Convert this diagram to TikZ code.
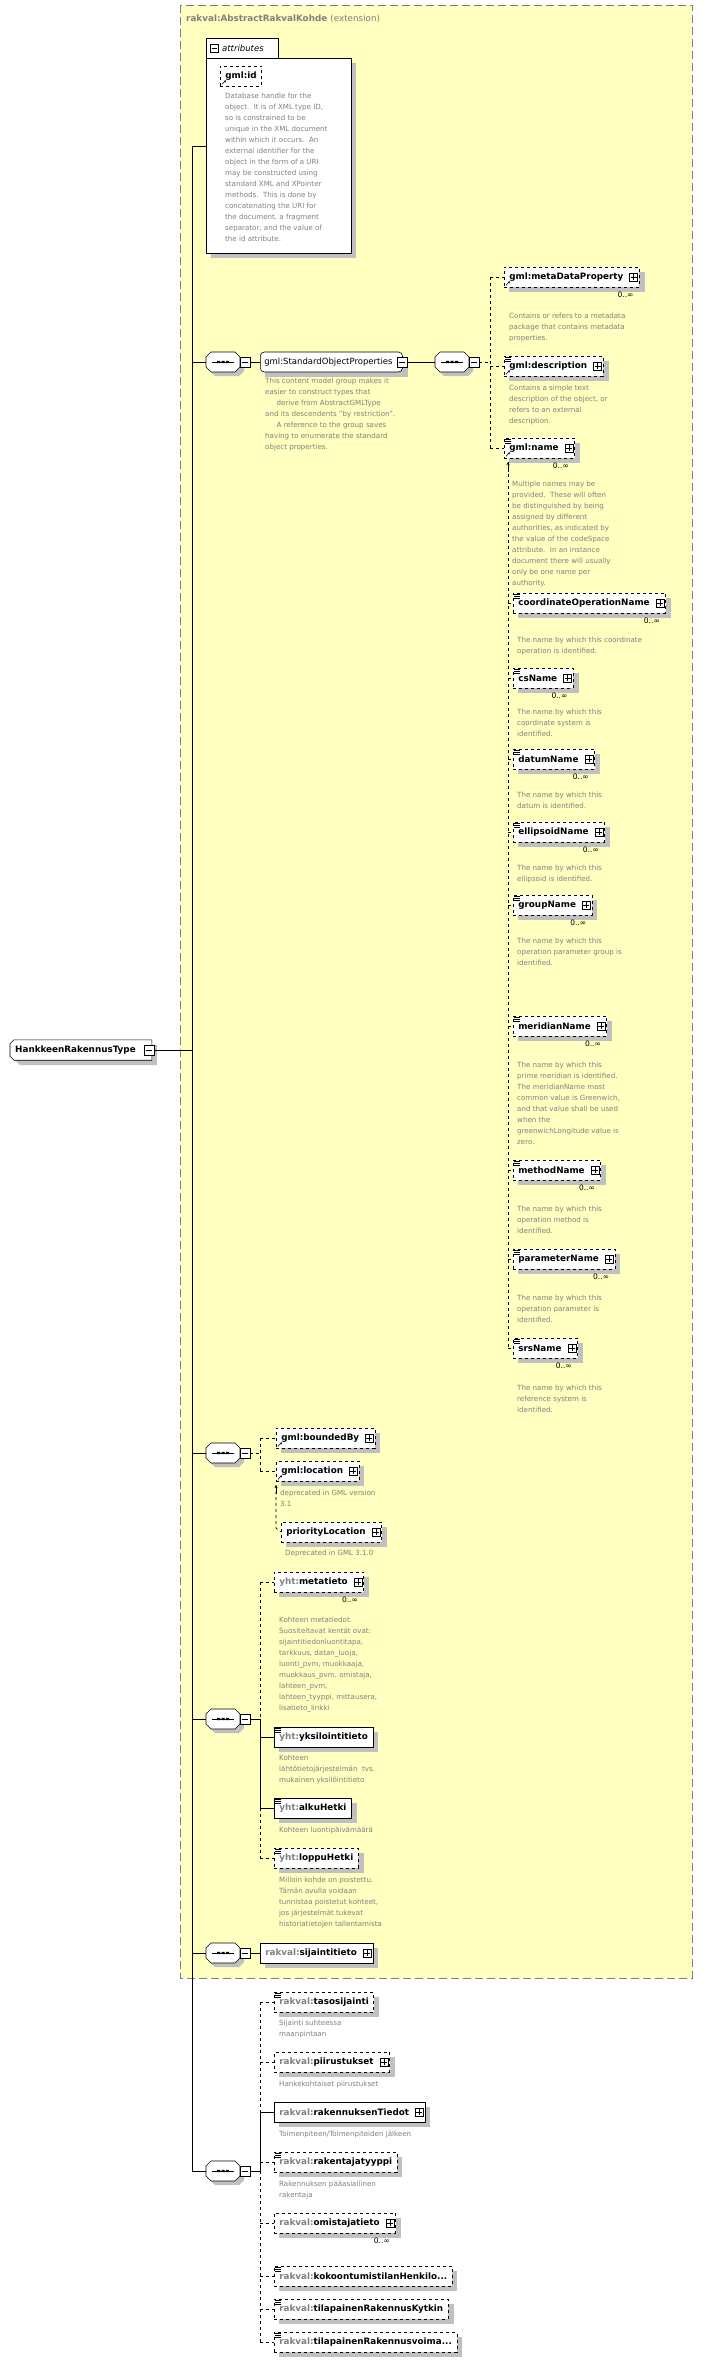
\documentclass[tikz,border=0pt]{standalone}
\usepackage{fontspec}
\setmainfont{DejaVu Sans}
\usetikzlibrary{calc,backgrounds,arrows.meta}
\definecolor{yellowbg}{RGB}{255,255,192}
\definecolor{shadowgray}{RGB}{192,192,192}
\definecolor{descgray}{RGB}{128,128,128}
\definecolor{pregray}{RGB}{128,128,128}
\newcommand\elfont{\bfseries\fontsize{8.8}{10}\selectfont}
\newcommand\dfont{\fontsize{7.1}{11}\selectfont}
\newcommand\pre[1]{\textcolor{pregray}{#1}}
\newcommand\pp{\hspace*{11pt}}
\tikzset{
  x=1pt,y=-1pt,
  elbox/.style={draw, fill=white, anchor=west, minimum height=20, inner xsep=5, inner ysep=0, font=\elfont, line width=0.6},
  optbox/.style={elbox, dashed},
  desc/.style={anchor=north west, align=left, font=\dfont, text=descgray, inner sep=0},
  mult/.style={anchor=north east, font=\fontsize{7.5}{8}\selectfont, inner sep=0},
}
\newcommand\shadowof[1]{\begin{scope}[on background layer]\fill[shadowgray] ($(#1.north west)+(5,5)$) rectangle ($(#1.south east)+(5,5)$);\end{scope}}
\newcommand\el[5]{\node[#4] (#1) at (#2,#3) {#5};\shadowof{#1}}
\newcommand\plusat[1]{\draw[fill=white,solid,line width=0.5] ($(#1.east)+(-10,-4)$) rectangle ++(8,8); \draw[solid,line width=0.5] ($(#1.east)+(-6,-3)$) -- ++(0,6) ($(#1.east)+(-9,0)$) -- ++(6,0);}
\newcommand\refic[1]{\draw[solid,line width=0.6,-{Stealth[length=2.2pt,width=2.2pt]}] ($(#1.south west)+(2,-2)$) -- ++(4,-4);}
\newcommand\simic[1]{\draw[solid,line width=0.5] ($(#1.north west)+(1,1.5)$) -- ++(6,0) ($(#1.north west)+(1,3.5)$) -- ++(6,0) ($(#1.north west)+(1,5.5)$) -- ++(6,0);}
\newcommand\seqq[3]{\begin{scope}[shift={(#2,#3)}]
  \fill[shadowgray] (9,-6) -- (33,-6) -- (38,-1) -- (38,9) -- (33,14) -- (9,14) -- (4,9) -- (4,-1) -- cycle;
  \draw[fill=white,line width=0.6] (5,-10) -- (29,-10) -- (34,-5) -- (34,5) -- (29,10) -- (5,10) -- (0,5) -- (0,-5) -- cycle;
  \draw[line width=0.6] (6,0) -- (28,0);
  \fill (11,-1.2) rectangle (14,1.2) (15.5,-1.2) rectangle (18.5,1.2) (20,-1.2) rectangle (23,1.2);
  \draw[fill=white,line width=0.5] (34,-5) rectangle (44,5); \draw[line width=0.5] (36,0) -- (42,0);
  \coordinate (#1-in) at (0,0); \coordinate (#1-out) at (44,0);
\end{scope}}
\begin{document}
\begin{tikzpicture}
\useasboundingbox (0,0) rectangle (708,2362);
\begin{scope}[on background layer]
\fill[white] (0,0) rectangle (708,2362);
\draw[draw=gray,fill=yellowbg,dash pattern=on 8pt off 4pt,line width=0.7] (180,5) rectangle (692,1978);
\end{scope}
\node[anchor=west,inner sep=0,font=\bfseries\fontsize{8.8}{10}\selectfont,text=descgray] (title) at (186,19) {rakval:AbstractRakvalKohde \mdseries(extension)};

% spine
\coordinate (spinetop) at (192,146);
\coordinate (spinebot) at (192,2171);
\draw[line width=0.7] (spinetop) -- (spinebot);

% root
\node[anchor=west,inner xsep=5,inner ysep=0,minimum height=20,font=\elfont] (root) at (10,1050) {HankkeenRakennusType\pp};
\begin{scope}[on background layer]
\fill[shadowgray] ($(root.north west)+(8,5)$) -- ($(root.north east)+(5,5)$) -- ($(root.south east)+(5,5)$) -- ($(root.south west)+(10,5)$) -- ($(root.south west)+(5,0)$) -- ($(root.west)+(5,0)$) -- cycle;
\end{scope}
\draw[fill=white,line width=0.6] ($(root.north west)+(4,0)$) -- (root.north east) -- (root.south east) -- ($(root.south west)+(4,0)$) -- ($(root.south west)+(0,-4)$) -- ($(root.north west)+(0,4)$) -- cycle;
\node[anchor=west,inner xsep=5,inner ysep=0,minimum height=20,font=\elfont] at (root.west) {HankkeenRakennusType\pp};
\draw[fill=white,line width=0.5] ($(root.east)+(-8,-5)$) rectangle ++(10,10);
\draw[line width=0.5] ($(root.east)+(-6,0)$) -- ++(6,0);
\coordinate (rootout) at ($(root.east)+(2,0)$);
\draw[line width=0.7] (rootout) -- (rootout -| spinetop);

% attributes
\fill[shadowgray] (211,63) rectangle (356,258);
\draw[fill=white,line width=0.6] (206,58) rectangle (351,253);
\draw[fill=white,line width=0.6] (206,38) rectangle (278,58);
\draw[line width=0.5] (210,44) rectangle (218,52) (211.5,48) -- (216.5,48);
\node[anchor=west,inner sep=0,font=\itshape\fontsize{8.5}{10}\selectfont] (attrlbl) at (222,48) {attributes};
\coordinate (attrL) at (206,146);
\draw[line width=0.7] (spinetop) -- (attrL);
\el{gid}{220}{76}{optbox}{gml:id}\refic{gid}
\node[desc] (giddesc) at (225,93) {Database handle for the\\object.\ \ It is of XML type ID,\\so is constrained to be\\unique in the XML document\\within which it occurs.\ \ An\\external identifier for the\\object in the form of a URI\\may be constructed using\\standard XML and XPointer\\methods.\ \ This is done by\\concatenating the URI for\\the document, a fragment\\separator, and the value of\\the id attribute.};

% seq1 + SOP
\seqq{s1}{206}{362}
\draw[line width=0.7] (s1-in -| spinetop) -- (s1-in);
\node[draw,fill=white,rounded corners=4,anchor=west,minimum height=20,inner xsep=4,inner ysep=0,font=\fontsize{8.5}{10}\selectfont,line width=0.6] (sop) at (260,362) {gml:StandardObjectProperties\hspace*{6pt}};
\shadowof{sop}
\draw[fill=white,line width=0.5] ($(sop.east)+(-6,-5)$) rectangle ++(10,10);
\draw[line width=0.5] ($(sop.east)+(-4,0)$) -- ++(6,0);
\draw[line width=0.7] (s1-out) -- (sop.west);
\node[desc] (sopdesc) at (265,378) {This content model group makes it\\easier to construct types that\\\hspace*{1.6em}derive from AbstractGMLType\\and its descendents "by restriction".\\\hspace*{1.6em}A reference to the group saves\\having to enumerate the standard\\object properties.};
\seqq{s2}{435}{362}
\draw[line width=0.7] ($(sop.east)+(4,0)$) -- (s2-in);
\coordinate (b2) at (490,362);
\draw[dashed,line width=0.6] (s2-out) -- (b2);

\el{mdp}{504}{277}{optbox}{gml:metaDataProperty\pp}\plusat{mdp}\refic{mdp}
\node[mult] at ($(mdp.south east)+(-6,4)$) {0..∞};
\node[desc] at (509,313) {Contains or refers to a metadata\\package that contains metadata\\properties.};
\el{gdesc}{504}{366}{optbox}{gml:description\pp}\plusat{gdesc}\refic{gdesc}\simic{gdesc}
\node[desc] at (509,385) {Contains a simple text\\description of the object, or\\refers to an external\\description.};
\el{gname}{504}{448}{optbox}{gml:name\pp}\plusat{gname}\refic{gname}\simic{gname}
\node[mult] at ($(gname.south east)+(-6,4)$) {0..∞};
\node[desc] at (512,481) {Multiple names may be\\provided.\ \ These will often\\be distinguished by being\\assigned by different\\authorities, as indicated by\\the value of the codeSpace\\attribute.\ \ In an instance\\document there will usually\\only be one name per\\authority.};
\draw[dashed,line width=0.6] (b2 |- mdp.west) -- (b2 |- gname.west);
\foreach \n in {mdp,gdesc,gname} \draw[dashed,line width=0.6] (b2 |- \n.west) -- (\n.west);

% substitution group
\coordinate (subtop) at (508,462);
\coordinate (subbot) at (508,1348);
\draw[dashed,line width=0.6] (subtop) -- (subbot);
\draw[line width=0.6,-{Stealth[length=3pt,width=3pt]}] (508,472) -- (subtop);
\newcommand\subel[5]{\el{#1}{513}{#2}{optbox}{#3\pp}\plusat{#1}\simic{#1}
  \node[mult] at ($(#1.south east)+(-6,4)$) {0..∞};
  \node[desc] at (517,#4) {#5};
  \draw[dashed,line width=0.6] (subtop |- #1.west) -- (#1.west);}
\subel{con}{603}{coordinateOperationName}{637}{The name by which this coordinate\\operation is identified.}
\subel{csn}{678}{csName}{709}{The name by which this\\coordinate system is\\identified.}
\subel{dat}{759}{datumName}{792}{The name by which this\\datum is identified.}
\subel{ell}{832}{ellipsoidName}{865}{The name by which this\\ellipsoid is identified.}
\subel{grp}{905}{groupName}{938}{The name by which this\\operation parameter group is\\identified.}
\subel{mer}{1026}{meridianName}{1062}{The name by which this\\prime meridian is identified.\\The meridianName most\\common value is Greenwich,\\and that value shall be used\\when the\\greenwichLongitude value is\\zero.}
\subel{met}{1170}{methodName}{1206}{The name by which this\\operation method is\\identified.}
\subel{par}{1259}{parameterName}{1295}{The name by which this\\operation parameter is\\identified.}
\subel{srs}{1348}{srsName}{1385}{The name by which this\\reference system is\\identified.}

% seq3
\seqq{s3}{206}{1453}
\draw[line width=0.7] (s3-in -| spinetop) -- (s3-in);
\coordinate (b3) at (260,1453);
\draw[dashed,line width=0.6] (s3-out) -- (b3);
\el{bby}{276}{1438}{optbox}{gml:boundedBy\pp}\plusat{bby}\refic{bby}
\el{loc}{276}{1471}{optbox}{gml:location\pp}\plusat{loc}\refic{loc}
\draw[dashed,line width=0.6] (b3 |- bby.west) -- (b3 |- loc.west);
\foreach \n in {bby,loc} \draw[dashed,line width=0.6] (b3 |- \n.west) -- (\n.west);
\node[desc] at (280,1490) {deprecated in GML version\\3.1};
\el{prl}{281}{1532}{optbox}{priorityLocation\pp}\plusat{prl}
\node[desc] at (285,1550) {Deprecated in GML 3.1.0};
\coordinate (loctop) at (276,1485);
\draw[dashed,line width=0.6] (loctop) -- (276,1528) -- (prl.west);
\draw[line width=0.6,-{Stealth[length=3pt,width=3pt]}] (276,1494) -- (loctop);

% seq4
\seqq{s4}{206}{1719}
\draw[line width=0.7] (s4-in -| spinetop) -- (s4-in);
\coordinate (b4) at (260,1719);
\draw[line width=0.6] (s4-out) -- (b4);
\el{mtt}{274}{1582}{optbox}{\pre{yht:}metatieto\pp}\plusat{mtt}
\node[mult] at ($(mtt.south east)+(-6,4)$) {0..∞};
\node[desc] at (279,1617) {Kohteen metatiedot.\\Suositeltavat kentät ovat:\\sijaintitiedonluontitapa,\\tarkkuus, datan\_luoja,\\luonti\_pvm, muokkaaja,\\muokkaus\_pvm, omistaja,\\lahteen\_pvm,\\lahteen\_tyyppi, mittausera,\\lisatieto\_linkki};
\el{yks}{274}{1737}{elbox}{\pre{yht:}yksilointitieto}\simic{yks}
\node[desc] at (279,1755) {Kohteen\\lähtötietojärjestelmän\ \ tvs.\\mukainen yksilöintitieto};
\el{alk}{274}{1808}{elbox}{\pre{yht:}alkuHetki}\simic{alk}
\node[desc] at (279,1827) {Kohteen luontipäivämäärä};
\el{lop}{274}{1858}{optbox}{\pre{yht:}loppuHetki}\simic{lop}
\node[desc] at (279,1877) {Milloin kohde on poistettu.\\Tämän avulla voidaan\\tunnistaa poistetut kohteet,\\jos järjestelmät tukevat\\historiatietojen tallentamista};
\draw[dashed,line width=0.6] (b4 |- mtt.west) -- (b4);
\draw[dashed,line width=0.6] (b4 |- alk.west) -- (b4 |- lop.west);
\draw[line width=0.6] (b4) -- (b4 |- alk.west);
\draw[dashed,line width=0.6] (b4 |- mtt.west) -- (mtt.west);
\draw[dashed,line width=0.6] (b4 |- lop.west) -- (lop.west);
\draw[line width=0.6] (b4 |- yks.west) -- (yks.west);
\draw[line width=0.6] (b4 |- alk.west) -- (alk.west);

% seq5
\seqq{s5}{206}{1953}
\draw[line width=0.7] (s5-in -| spinetop) -- (s5-in);
\el{sij}{260}{1953}{elbox}{\pre{rakval:}sijaintitieto\pp}\plusat{sij}
\draw[line width=0.7] (s5-out) -- (sij.west);

% seq6
\seqq{s6}{206}{2171}
\draw[line width=0.7] (spinebot) -- (s6-in);
\coordinate (b6) at (260,2171);
\draw[line width=0.6] (s6-out) -- (b6);
\el{tas}{274}{2002}{optbox}{\pre{rakval:}tasosijainti}\simic{tas}
\node[desc] at (279,2020) {Sijainti suhteessa\\maanpintaan};
\el{pii}{274}{2062}{optbox}{\pre{rakval:}piirustukset\pp}\plusat{pii}
\node[desc] at (279,2081) {Hankekohtaiset piirustukset};
\el{rti}{274}{2112}{elbox}{\pre{rakval:}rakennuksenTiedot\pp}\plusat{rti}
\node[desc] at (279,2131) {Toimenpiteen/Toimenpiteiden jälkeen};
\el{rty}{274}{2162}{optbox}{\pre{rakval:}rakentajatyyppi}\simic{rty}
\node[desc] at (279,2181) {Rakennuksen pääasiallinen\\rakentaja};
\el{omi}{274}{2223}{optbox}{\pre{rakval:}omistajatieto\pp}\plusat{omi}
\node[mult] at ($(omi.south east)+(-6,4)$) {0..∞};
\el{kok}{274}{2276}{optbox}{\pre{rakval:}kokoontumistilanHenkilo...}\simic{kok}
\el{tky}{274}{2309}{optbox}{\pre{rakval:}tilapainenRakennusKytkin}\simic{tky}
\el{tvo}{274}{2342}{optbox}{\pre{rakval:}tilapainenRakennusvoima...}\simic{tvo}
\draw[dashed,line width=0.6] (b6 |- tas.west) -- (b6 |- rti.west);
\draw[line width=0.6] (b6 |- rti.west) -- (b6);
\draw[dashed,line width=0.6] (b6) -- (b6 |- tvo.west);
\foreach \n in {tas,pii,rty,omi,kok,tky,tvo} \draw[dashed,line width=0.6] (b6 |- \n.west) -- (\n.west);
\draw[line width=0.6] (b6 |- rti.west) -- (rti.west);
\end{tikzpicture}
\end{document}
